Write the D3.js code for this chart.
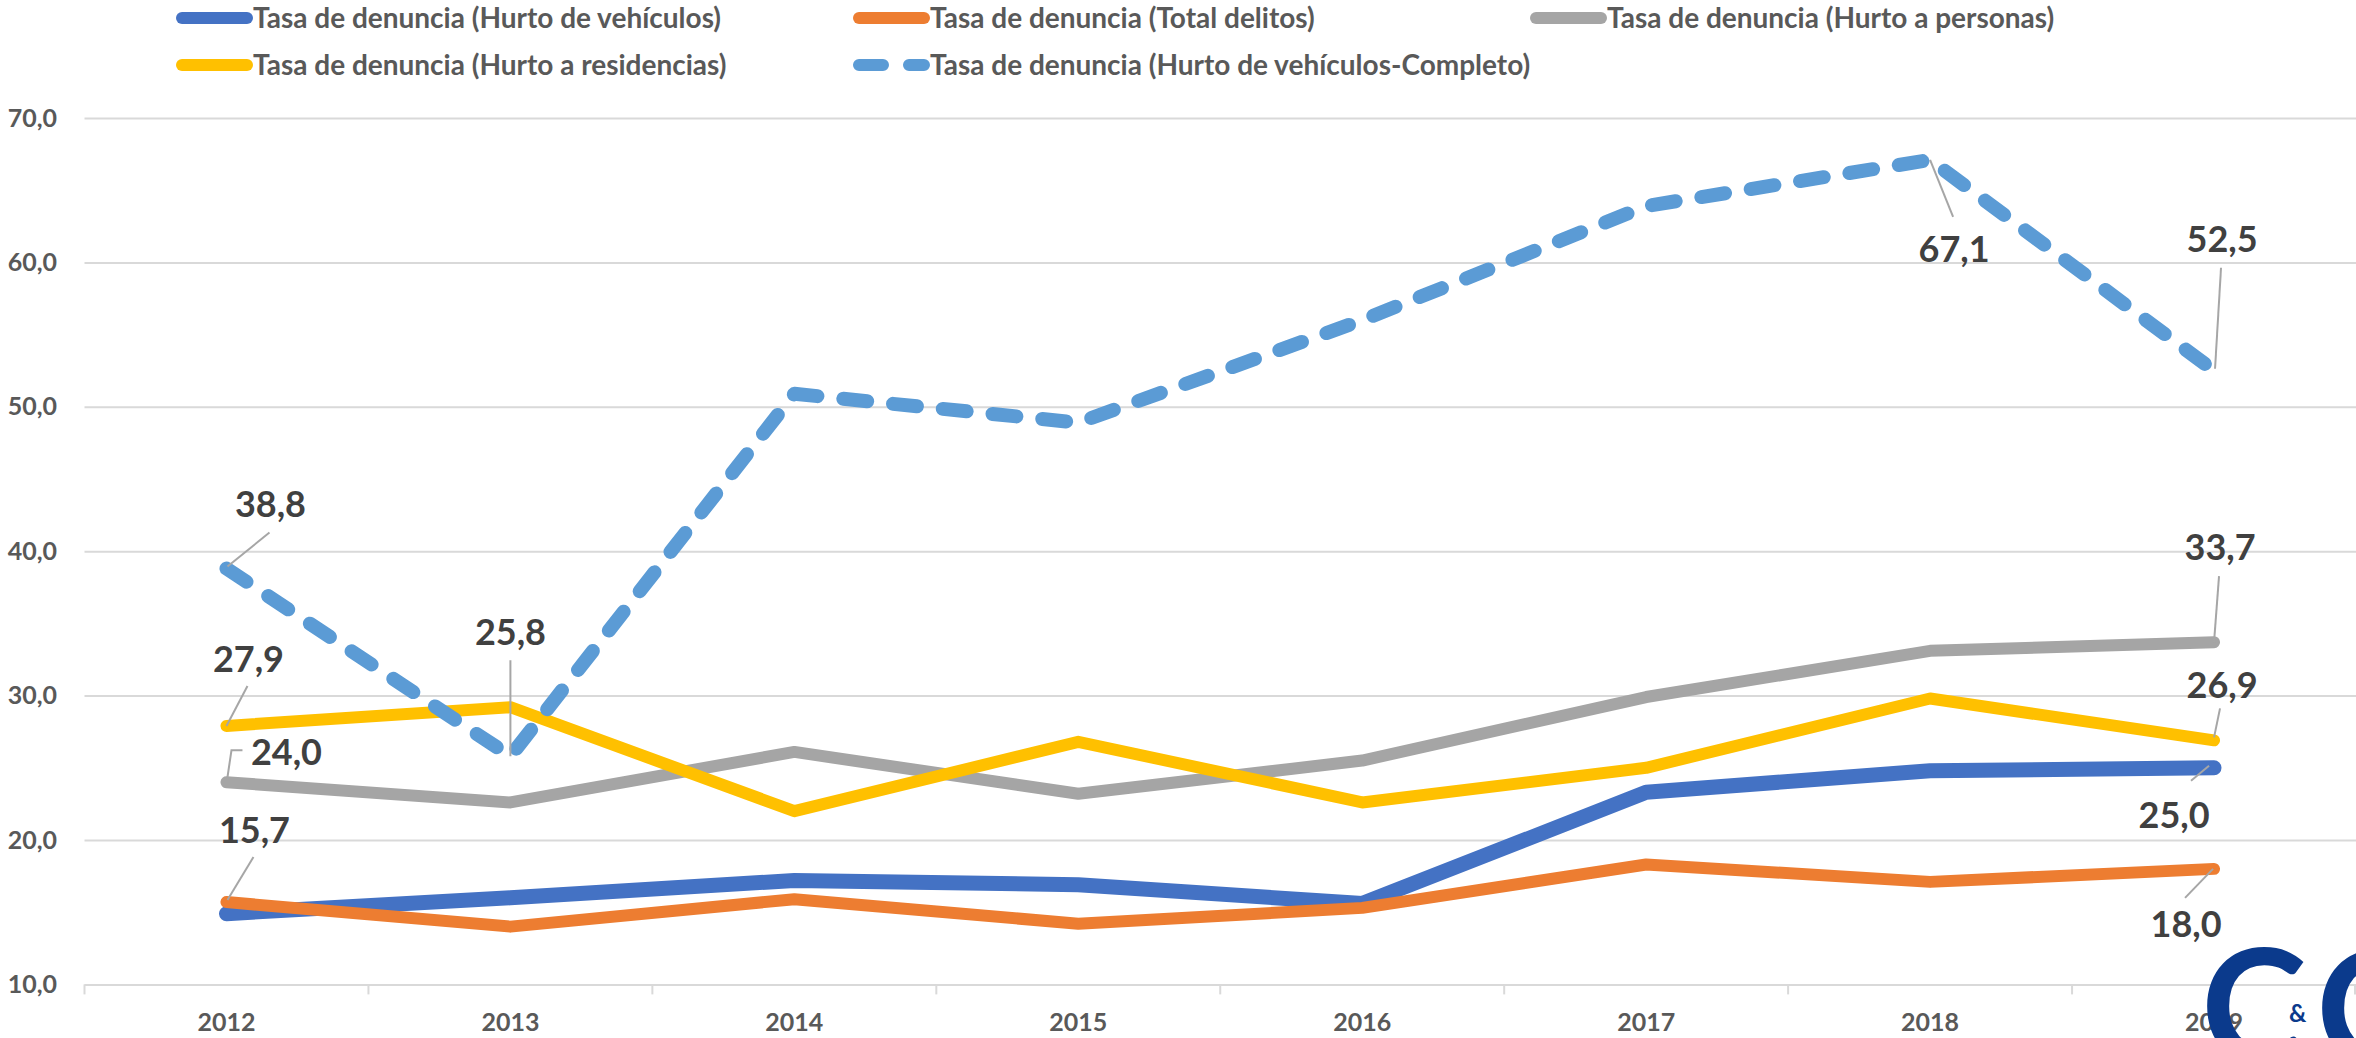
<!DOCTYPE html>
<html>
<head>
<meta charset="utf-8">
<script src="https://cdn.jsdelivr.net/npm/d3@7"></script>
<style>
  html, body { margin: 0; padding: 0; background: #fff; }
  svg { display: block; }
  text { font-family: Lato, "Open Sans", sans-serif; font-weight: 700; }
</style>
</head>
<body>
<svg id="chart"></svg>
<script>
const years = ['2012', '2013', '2014', '2015', '2016', '2017', '2018', '2019']
const hurtoVehiculos = [14.9, 16.0, 17.2, 16.9, 15.6, 23.3, 24.8, 25.0]
const totalDelitos = [15.7, 14.0, 15.9, 14.2, 15.3, 18.3, 17.1, 18.0]
const hurtoPersonas = [24.0, 22.6, 26.1, 23.2, 25.5, 29.9, 33.1, 33.7]
const hurtoResidencias = [27.9, 29.2, 22.0, 26.8, 22.6, 25.0, 29.8, 26.9]
const hurtoVehiculosCompleto = [38.8, 25.8, 50.9, 48.9, 56.0, 63.9, 67.1, 52.5]
const yTicks = [10, 20, 30, 40, 50, 60, 70]

const series = [
  { name: 'Tasa de denuncia (Hurto de vehículos)', values: hurtoVehiculos, color: '#4472c4', width: 15 },
  { name: 'Tasa de denuncia (Total delitos)', values: totalDelitos, color: '#ed7d31', width: 12 },
  { name: 'Tasa de denuncia (Hurto a personas)', values: hurtoPersonas, color: '#a5a5a5', width: 12 },
  { name: 'Tasa de denuncia (Hurto a residencias)', values: hurtoResidencias, color: '#ffc000', width: 12 },
  { name: 'Tasa de denuncia (Hurto de vehículos-Completo)', values: hurtoVehiculosCompleto, color: '#5b9bd5', width: 14, dash: '24 26' }
]

// etiquetas de datos: serie, índice, desplazamiento del texto y línea guía
const callouts = [
  { s: 4, i: 0, dx: 44, dy: -52, lead: [[1, -2], [43, -36]] },
  { s: 4, i: 1, dx: 0, dy: -111, lead: [[0, 0], [0, -96]] },
  { s: 3, i: 0, dx: 22, dy: -54, lead: [[0, 0], [21, -40]] },
  { s: 2, i: 0, dx: 60, dy: -17, lead: [[1, -5], [5, -32], [16, -32]] },
  { s: 1, i: 0, dx: 28, dy: -59, lead: [[1, -2], [27, -45]] },
  { s: 4, i: 6, dx: 24, dy: 102, lead: [[0, 0], [23, 57]] },
  { s: 4, i: 7, dx: 8, dy: -119, lead: [[1, -2], [7, -103]] },
  { s: 2, i: 7, dx: 6, dy: -82, lead: [[0, 0], [5, -66]] },
  { s: 3, i: 7, dx: 8, dy: -42, lead: [[0, -3], [6, -32]] },
  { s: 0, i: 7, dx: -40, dy: 60, lead: [[-5, -2], [-23, 13]] },
  { s: 1, i: 7, dx: -28, dy: 68, lead: [[-1, 0], [-29, 29]] }
]

const W = 2356, H = 1038
const plotLeft = 84.5, plotBottom = 984.4, plotTop = 118

const svg = d3.select('#chart').attr('width', W).attr('height', H)

const x = d3.scaleBand().domain(years).range([plotLeft, W]).padding(0)
const y = d3.scaleLinear().domain([10, 70]).range([plotBottom, plotTop])
const cx = d => x(d) + x.bandwidth() / 2

const fmt = d3.formatLocale({ decimal: ',', thousands: '.', grouping: [3], currency: ['$', ''] }).format('.1f')

// eje Y con líneas de cuadrícula
const yAxis = svg.append('g')
  .attr('transform', `translate(${plotLeft},0)`)
  .call(d3.axisLeft(y).tickValues(yTicks).tickFormat(fmt).tickSize(-(W - plotLeft)).tickPadding(27.5))
yAxis.select('.domain').remove()
yAxis.selectAll('.tick line').attr('stroke', '#d9d9d9').attr('stroke-width', 2)
yAxis.selectAll('.tick text')
  .attr('fill', '#595959')
  .style('font-size', '25px')
  .style('font-family', 'Lato, sans-serif')

// eje X
const xAxis = svg.append('g')
  .attr('transform', `translate(0,${plotBottom})`)
  .call(d3.axisBottom(x).tickSize(0).tickSizeOuter(0).tickPadding(29))
xAxis.select('.domain').attr('stroke', '#d9d9d9').attr('stroke-width', 2)
xAxis.selectAll('.tick text')
  .attr('fill', '#595959')
  .style('font-size', '25px')
  .style('font-family', 'Lato, sans-serif')

svg.append('g').selectAll('line')
  .data(years.map(d => x(d)).concat([W - 1]))
  .enter()
  .append('line')
  .attr('x1', d => d).attr('x2', d => d)
  .attr('y1', plotBottom).attr('y2', plotBottom + 10)
  .attr('stroke', '#d9d9d9')
  .attr('stroke-width', 2)

// líneas de las series
const line = d3.line()
  .x((d, i) => cx(years[i]))
  .y(d => y(d))

svg.append('g').selectAll('path')
  .data(series)
  .enter()
  .append('path')
  .attr('d', d => line(d.values))
  .attr('fill', 'none')
  .attr('stroke', d => d.color)
  .attr('stroke-width', d => d.width)
  .attr('stroke-linecap', 'round')
  .attr('stroke-linejoin', 'round')
  .attr('stroke-dasharray', d => d.dash || null)

// etiquetas con líneas guía
const lab = svg.append('g').selectAll('g')
  .data(callouts)
  .enter()
  .append('g')
  .attr('transform', d => `translate(${cx(years[d.i])},${y(series[d.s].values[d.i])})`)

lab.append('polyline')
  .attr('points', d => d.lead.map(p => p.join(',')).join(' '))
  .attr('fill', 'none')
  .attr('stroke', '#a6a6a6')
  .attr('stroke-width', 2)

lab.append('text')
  .attr('x', d => d.dx)
  .attr('y', d => d.dy)
  .attr('text-anchor', 'middle')
  .attr('fill', '#404040')
  .style('font-size', '36px')
  .text(d => fmt(series[d.s].values[d.i]))

// leyenda
const legendCols = [176, 853, 1530]
const legendRows = [18, 65]
const leg = svg.append('g').selectAll('g')
  .data(series)
  .enter()
  .append('g')
  .attr('transform', (d, i) => `translate(${legendCols[i % 3]},${legendRows[Math.floor(i / 3)]})`)

leg.append('line')
  .attr('x1', 6).attr('x2', 71)
  .attr('stroke', d => d.color)
  .attr('stroke-width', 12)
  .attr('stroke-linecap', 'round')
  .attr('stroke-dasharray', d => d.dash ? '24 26' : null)

leg.append('text')
  .attr('x', 77)
  .attr('dy', '0.36em')
  .attr('fill', '#595959')
  .style('font-size', '28px')
  .text(d => d.name)

// marca de agua
const logo = svg.append('g').attr('fill', '#0b3a8c').style('font-family', '"Liberation Serif", "DejaVu Serif", serif')
logo.append('text').attr('x', 2201).attr('y', 1064).style('font-size', '160px').text('C')
logo.append('text').attr('x', 2316).attr('y', 1066).style('font-size', '160px').text('C')
logo.append('text').attr('x', 2289).attr('y', 1022).style('font-size', '24px').text('&')
</script>
</body>
</html>
